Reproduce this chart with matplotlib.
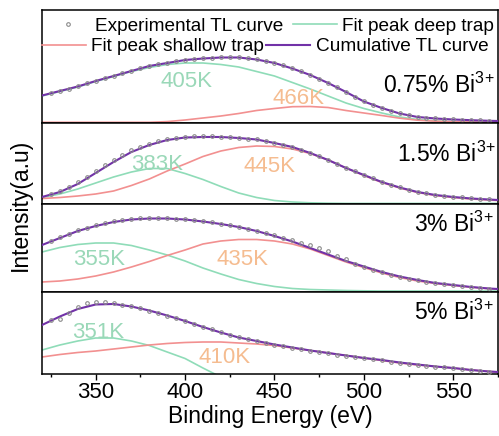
import matplotlib
matplotlib.use("Agg")
import matplotlib.pyplot as plt
from matplotlib.lines import Line2D

plt.rcParams['font.family'] = ['Liberation Sans', 'DejaVu Sans']
plt.rcParams['mathtext.fontset'] = 'custom'
plt.rcParams['mathtext.rm'] = 'Liberation Sans'
plt.rcParams['mathtext.it'] = 'Liberation Sans:italic'

# ---------------- data ----------------
x_fit = [320, 330, 340, 350, 360, 370, 380, 390, 400, 410, 420, 430, 440, 450,
         460, 470, 480, 490, 500, 510, 520, 530, 540, 550, 560, 570, 575]
x_exp = list(range(325, 575, 5))

samples = ["0.75% Bi", "1.5% Bi", "3% Bi", "5% Bi"]
deep_labels = ["405K", "383K", "355K", "351K"]
shallow_labels = ["466K", "445K", "435K", "410K"]

# panel 1 (0.75%)
cum_1 = [27.5, 32, 36.5, 42, 47, 52, 57, 60, 63, 64.5, 65.5, 65.5, 63.5, 60, 54.5, 48, 40,
         31, 21.5, 15, 9.5, 6, 4.5, 3.5, 2.8, 2.2, 2]
deep_1 = [27, 31.5, 36, 41.5, 46.5, 51.5, 55.5, 58.5, 60, 60, 58.5, 56, 51.5, 47, 40.5, 34,
          27, 20, 14.5, 10, 6, 3.5, 2, 1.3, 1, 0.8, 0.8]
shallow_1 = [0.7, 0.7, 0.7, 0.7, 0.7, 0.7, 0.7, 1.4, 3, 5, 7, 9.5, 12.5, 14.5, 16.3, 16.5,
             15.5, 12.5, 10, 7.5, 4.8, 2.8, 1.8, 1.3, 1, 0.8, 0.7]
exp_1 = [29.5, 32, 34, 36.5, 39.5, 42, 44.5, 47, 49.5, 52, 54.5, 57, 58.5, 60, 61.5, 63, 64,
         64.5, 65, 65.5, 65.5, 65.5, 65, 63.5, 62, 60, 57.5, 54.5, 51.5, 48, 44, 40, 35.5,
         31, 26, 21.5, 18, 15, 12, 9.5, 7.5, 6, 5, 4.5, 4, 3.5, 3, 2.8, 2.5, 2.2]

# panel 2 (1.5%)
cum_2 = [7, 12, 20, 31, 42, 52, 59, 64, 66.5, 67, 67, 66, 64.5, 61, 57, 51, 44, 36, 29, 22,
         16.5, 12, 9, 7, 5.5, 4.5, 4]
deep_2 = [6.5, 10, 15, 21, 27, 32, 35.5, 35.5, 30.5, 24.5, 17.5, 11, 6.5, 3.5, 2, 1.2, 0.8,
          0.6, 0.6, 0.6, 0.6, 0.6, 0.6, 0.6, 0.6, 0.6, 0.6]
shallow_2 = [5.5, 6.5, 8, 10, 13, 18.5, 25, 33, 40, 47.5, 53, 56.5, 58, 57.5, 55, 50.5, 44,
             36, 28.5, 21.5, 16, 11.5, 8.5, 6.5, 5, 4, 3.5]
exp_2 = [10, 13, 17, 22, 27, 33, 38.5, 44, 49, 53.5, 57, 60, 62.5, 64.5, 66, 67, 67.5, 67.5,
         67.5, 67, 66.5, 66, 65, 64.5, 63, 61, 59, 56.5, 54, 51, 47.5, 44, 40, 36, 32.5, 29,
         25.5, 22, 19, 16.5, 14, 12, 10.5, 9, 8, 7, 6.5, 5.5, 5, 4.5]

# panel 3 (3%)
cum_3 = [47, 54, 61, 66, 70, 72.5, 73.5, 73.5, 72.5, 70.5, 68, 65, 61, 56, 50.5, 44, 37.5,
         31, 25.5, 20, 15.5, 12, 9, 7, 5, 3.5, 3]
deep_3 = [40, 44.5, 47.5, 49, 49, 46.5, 42, 37, 31, 24, 18, 12.5, 8.5, 5.5, 3.5, 2.5, 2, 1.5,
          1.2, 1, 1, 1, 1, 1, 1, 1, 1]
shallow_3 = [10, 11, 13, 16, 20, 25, 30.5, 36.5, 42, 48, 51, 52.5, 52.5, 51, 48, 43, 36.5,
             30, 24.5, 19, 14.5, 11, 8.5, 6.5, 4.8, 3.3, 2.8]
exp_3 = [51, 54.5, 58, 61.5, 64, 66.5, 68.5, 70.5, 71.5, 72.5, 73.5, 74, 74, 73.5, 73, 72.5,
         71.5, 70.5, 69.5, 68, 66.5, 65, 63, 61, 58.5, 56.5, 54, 51.5, 49, 47, 44, 40.5, 36.5,
         33, 28.5, 25.5, 22.5, 20, 17.5, 15.5, 13.5, 12, 10.5, 9, 8, 7, 6, 5, 4, 3.5]

# panel 4 (5%)
cum_4 = [49, 57.5, 65, 69.5, 70, 67.5, 63.5, 58.5, 53, 47, 41.5, 36.5, 33, 29.5, 26.5, 23.5,
         21, 18.5, 16, 14, 11.5, 9.5, 7.5, 6, 4, 2.5, 2]
deep_4 = [24, 29, 33, 36, 36, 33, 28.5, 22, 15.5, 6, -3, -11, -18, -24, -29, -33, -36, -38,
          -40, -41, -42, -43, -44, -44, -45, -45, -45]
shallow_4 = [17, 19.5, 21.5, 23, 25, 27, 29, 30.5, 31.5, 32, 32, 31, 30, 28.5, 26, 23.5, 21,
             18.5, 16, 13.5, 11, 9, 7.5, 6, 4, 2.5, 2]
exp_4 = [54, 55, 61, 67, 71, 72.5, 72.5, 71.5, 69.5, 68, 66, 63.5, 61, 58.5, 56, 53.5, 50.5,
         47.5, 45, 42, 39.5, 37, 35, 33, 31, 29.5, 28, 26.5, 25, 23.5, 22, 21, 19.5, 18.5, 17,
         16, 15, 14, 12.5, 11.5, 10.5, 9.5, 8.5, 7.5, 7, 6, 5, 4, 3.5, 2.5]

cums = [cum_1, cum_2, cum_3, cum_4]
deeps = [deep_1, deep_2, deep_3, deep_4]
shallows = [shallow_1, shallow_2, shallow_3, shallow_4]
exps = [exp_1, exp_2, exp_3, exp_4]

# ---------------- style / layout ----------------
C_PURPLE = '#7232a8'
C_GREEN = '#8fdcb8'
C_RED = '#f29090'
C_GREEN_T = '#9ad8b8'
C_ORANGE_T = '#f5bc90'
C_EXP = '#8a8a8a'

panel_h = [113, 81, 88, 82]
W, H = 499, 436
fig = plt.figure(figsize=(W / 100, H / 100), dpi=100)
gs = fig.add_gridspec(4, 1, height_ratios=panel_h, hspace=0,
                      left=42 / W, right=498 / W, top=1 - 10 / H, bottom=1 - 374 / H)

deep_pos = [(400.6, 36), (384.4, 34), (352.2, 27), (351.4, 36)]
shal_pos = [(463.3, 19), (447.2, 32), (432.2, 27), (422.2, 11)]
name_pos = [(510.5, 30), (518.3, 42), (528.3, 60), (528.3, 54)]

axes = []
for i in range(4):
    ax = fig.add_subplot(gs[i])
    axes.append(ax)
    ax.plot(x_fit, deeps[i], color=C_GREEN, lw=1.2, zorder=2)
    ax.plot(x_fit, shallows[i], color=C_RED, lw=1.2, zorder=2)
    ax.plot(x_fit, cums[i], color=C_PURPLE, lw=1.5, zorder=3)
    ax.plot(x_exp, exps[i], ls='none', marker='o', ms=2.6, mfc='none', mec=C_EXP,
            mew=0.8, zorder=4)
    ax.set_xlim(320, 575)
    ax.set_ylim(0, panel_h[i])
    ax.set_yticks([])
    for s in ax.spines.values():
        s.set_linewidth(1.1)
    ax.text(*deep_pos[i], deep_labels[i], color=C_GREEN_T, fontsize=16,
            ha='center', va='baseline', zorder=5)
    ax.text(*shal_pos[i], shallow_labels[i], color=C_ORANGE_T, fontsize=16,
            ha='center', va='baseline', zorder=5)
    ax.text(*name_pos[i], samples[i] + r'$^{\mathregular{3\!+}}$', color='black',
            fontsize=16.5, ha='left', va='baseline', clip_on=False, zorder=5)
    if i < 3:
        ax.set_xticks([])
    else:
        ax.set_xticks([350, 400, 450, 500, 550])
        ax.set_xticks([325, 375, 425, 475, 525, 575], minor=True)
        ax.tick_params(axis='x', which='major', direction='out', length=4, width=1,
                       labelsize=16, pad=2)
        ax.tick_params(axis='x', which='minor', direction='out', length=2.5, width=1)
        ax.set_xlabel('Binding Energy (eV)', fontsize=16.5, labelpad=1)

# legends (two rows, as in the reference)
h_exp = Line2D([], [], ls='none', marker='o', ms=2.6, mfc='none', mec=C_EXP, mew=0.8)
h_deep = Line2D([], [], color=C_GREEN, lw=1.2)
h_shal = Line2D([], [], color=C_RED, lw=1.2)
h_cum = Line2D([], [], color=C_PURPLE, lw=1.5)

ax0 = axes[0]
leg1 = ax0.legend([h_exp, h_deep], ['Experimental TL curve', 'Fit peak deep trap'],
                  ncol=2, loc='center left', bbox_to_anchor=(0.008, 0.855), frameon=False,
                  fontsize=13.7, handlelength=2.3, handletextpad=0.3, columnspacing=0.5,
                  borderpad=0, borderaxespad=0)
ax0.add_artist(leg1)
leg2 = ax0.legend([h_shal, h_cum], ['Fit peak shallow trap', 'Cumulative TL curve'],
                  ncol=2, loc='center left', bbox_to_anchor=(0.0, 0.675), frameon=False,
                  fontsize=13.7, handlelength=2.3, handletextpad=0.3, columnspacing=0.1,
                  borderpad=0, borderaxespad=0)

fig.text(20 / W, 1 - 205 / H, 'Intensity(a.u)', rotation=90, fontsize=16.5,
         ha='center', va='center')

fig.savefig('out.png', dpi=100)
